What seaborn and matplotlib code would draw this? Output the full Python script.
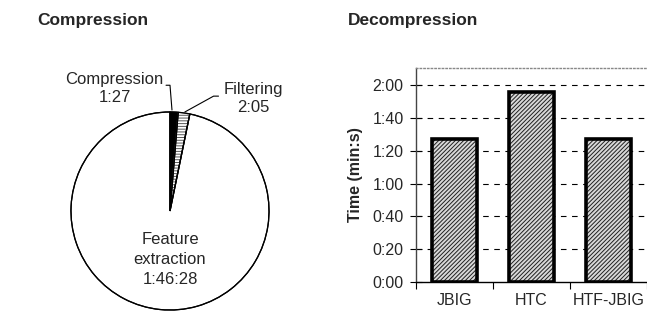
import matplotlib
matplotlib.use("Agg")
import matplotlib.pyplot as plt
import seaborn as sns
import pandas as pd
from matplotlib.patches import Rectangle

# ---- data ----
pie_labels = ["Compression", "Filtering", "Feature extraction"]
pie_times = ["1:27", "2:05", "1:46:28"]
pie_seconds = [87, 125, 6388]

bar_categories = ["JBIG", "HTC", "HTF-JBIG"]
bar_seconds = [87, 116, 87]
ytick_values = [0, 20, 40, 60, 80, 100, 120]
ytick_labels = ["0:00", "0:20", "0:40", "1:00", "1:20", "1:40", "2:00"]

sns.set_theme(style="white")
plt.rcParams["font.family"] = ["Liberation Sans", "DejaVu Sans"]
plt.rcParams["hatch.linewidth"] = 0.7

W, H = 647, 312
fig = plt.figure(figsize=(W / 100, H / 100), dpi=100)

# titles
fig.text(37 / W, 1 - 20 / H, "Compression", fontsize=12.5, fontweight="bold",
         ha="left", va="center")
fig.text(348 / W, 1 - 20 / H, "Decompression", fontsize=12.5, fontweight="bold",
         ha="left", va="center")

# ---- pie ----
R = 101
cx, cy = 170, 211
axp = fig.add_axes([(cx - R) / W, (H - cy - R) / H, 2 * R / W, 2 * R / H])
wedges, _ = axp.pie(pie_seconds, startangle=90, counterclock=False,
                    colors=["black", "white", "white"],
                    wedgeprops=dict(edgecolor="black", linewidth=0.9))
wedges[1].set_hatch("------")
wedges[1].set_edgecolor("#555555")
wedges[1].set_facecolor("white")
# outline for filtering slice
axp.pie(pie_seconds, startangle=90, counterclock=False,
        colors=["none", "none", "none"],
        wedgeprops=dict(edgecolor="black", linewidth=0.9))
axp.set_xlim(-1.02, 1.02)
axp.set_ylim(-1.02, 1.02)
axp.set_aspect("equal")
axp.axis("off")

axp.text(-0.56, 1.24, f"{pie_labels[0]}\n{pie_times[0]}", ha="center", va="center",
         fontsize=12, linespacing=1.25, clip_on=False)
axp.text(0.84, 1.14, f"{pie_labels[1]}\n{pie_times[1]}", ha="center", va="center",
         fontsize=12, linespacing=1.25, clip_on=False)
axp.text(0.0, -0.49, "Feature\nextraction\n" + pie_times[2], ha="center", va="center",
         fontsize=12, linespacing=1.45, clip_on=False)
axp.plot([-0.04, 0.0, 0.02], [1.27, 1.27, 1.02], color="black", lw=0.8, clip_on=False)
axp.plot([0.49, 0.44, 0.15], [1.16, 1.16, 1.0], color="black", lw=0.8, clip_on=False)

# ---- bar chart ----
axb = fig.add_axes([416 / W, (H - 282) / H, (W - 416) / W, 214 / H])
df = pd.DataFrame({"cat": bar_categories, "sec": bar_seconds})
sns.barplot(data=df, x="cat", y="sec", ax=axb, color="#d8d8d8", width=0.59,
            saturation=1, zorder=3)
for p in list(axb.patches):
    p.set_hatch("////////")
    p.set_edgecolor("#202020")
    p.set_linewidth(0)
    axb.add_patch(Rectangle(p.get_xy(), p.get_width(), p.get_height(),
                            fill=False, edgecolor="black", linewidth=2.6, zorder=4))

axb.set_ylim(0, 130.5)
axb.set_xlim(-0.5, 2.5)
axb.set_yticks(ytick_values)
axb.set_yticklabels(ytick_labels, fontsize=11.5)
axb.set_xticks(range(len(bar_categories)))
axb.set_xticklabels(bar_categories, fontsize=11.5)
axb.set_xticks([-0.5, 0.5, 1.5, 2.5], minor=True)
axb.tick_params(axis="x", which="major", length=0, pad=8)
axb.tick_params(axis="x", which="minor", length=5, width=0.8, color="black",
                direction="out", bottom=True)
axb.tick_params(axis="y", which="major", length=8, width=0.8, color="black",
                direction="inout", left=True, pad=5)
axb.set_xlabel("")
axb.set_ylabel("Time (min:s)", fontsize=11.5, fontweight="bold", labelpad=7)
axb.grid(False)
for y in ytick_values[1:]:
    axb.axhline(y, color="black", lw=0.8, ls=(0, (5, 5)), zorder=1)

axb.spines["top"].set_visible(True)
axb.spines["top"].set_color("#888888")
axb.spines["top"].set_linestyle(":")
axb.spines["top"].set_linewidth(1.0)
axb.spines["right"].set_visible(False)
axb.spines["left"].set_color("#444444")
axb.spines["left"].set_linewidth(1.0)
axb.spines["bottom"].set_color("black")
axb.spines["bottom"].set_linewidth(1.0)

fig.savefig("out.png", dpi=100)
